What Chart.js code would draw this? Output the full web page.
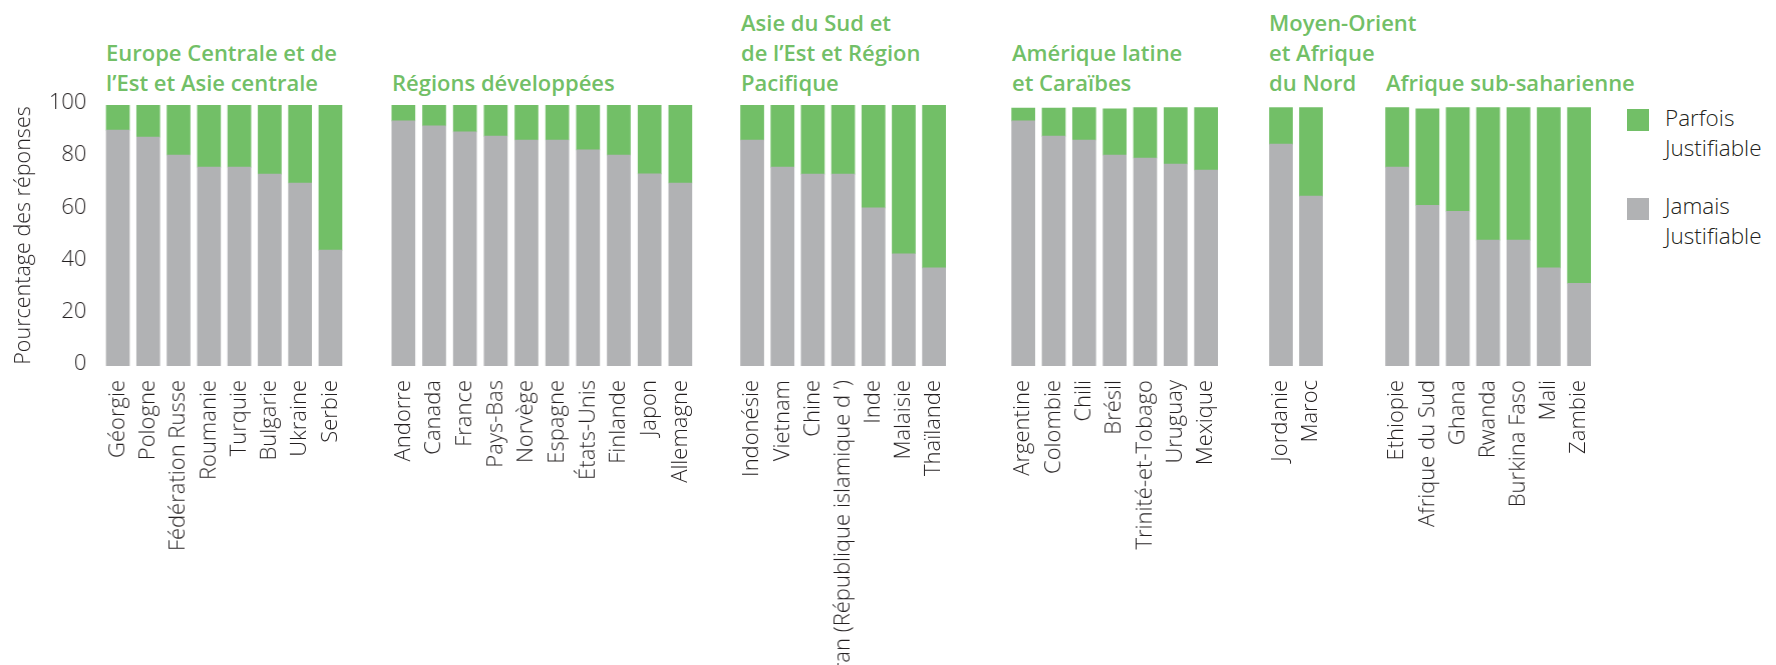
<!DOCTYPE html>
<html lang="fr">
<head>
<meta charset="utf-8">
<title>Pourcentage des réponses par région</title>
<script src="https://cdn.jsdelivr.net/npm/chart.js@4.4.1/dist/chart.umd.min.js"></script>
<style>
  html, body { margin: 0; padding: 0; background: #fff; }
  #stage { position: relative; width: 1776px; height: 665px; overflow: hidden;
           font-family: 'Open Sans', sans-serif; color: #231f20; }
  .panel { position: absolute; top: 0; height: 665px; }
  .region { position: absolute; bottom: 568px; color: #72bf67; font-weight: 600;
            font-size: 22px; line-height: 30px; white-space: pre; }
  .key { position: absolute; left: 1627px; width: 22px; height: 22px; }
  .key-label { position: absolute; left: 1665px; font-size: 22.5px; line-height: 30px;
               font-weight: 300; white-space: pre; }
</style>
</head>
<body>
<div id="stage"></div>
<script>
'use strict';

/* Region headings, and how many countries sit under each one */
const regions = [
    'Europe Centrale et de\nl’Est et Asie centrale',
    'Régions développées',
    'Asie du Sud et\nde l’Est et Région\nPacifique',
    'Amérique latine\net Caraïbes',
    'Moyen-Orient\net Afrique\ndu Nord',
    'Afrique sub-saharienne'
];
const regionSizes = [8, 10, 7, 7, 2, 7];

const countries = [
    'Géorgie', 'Pologne', 'Fédération Russe', 'Roumanie', 'Turquie', 'Bulgarie', 'Ukraine', 'Serbie',
    'Andorre', 'Canada', 'France', 'Pays-Bas', 'Norvège', 'Espagne', 'États-Unis', 'Finlande', 'Japon', 'Allemagne',
    'Indonésie', 'Vietnam', 'Chine', 'Iran (République islamique d ’)', 'Inde', 'Malaisie', 'Thaïlande',
    'Argentine', 'Colombie', 'Chili', 'Brésil', 'Trinité-et-Tobago', 'Uruguay', 'Mexique',
    'Jordanie', 'Maroc',
    'Ethiopie', 'Afrique du Sud', 'Ghana', 'Rwanda', 'Burkina Faso', 'Mali', 'Zambie'
];

// % "Jamais Justifiable"
const jamais = [
    90.4, 87.7, 80.8, 76.2, 76.2, 73.5, 70.1, 44.4,
    93.9, 92.0, 89.7, 88.1, 86.6, 86.6, 82.8, 80.8, 73.6, 70.1,
    86.6, 76.2, 73.5, 73.5, 60.6, 43.0, 37.6,
    93.9, 88.1, 86.6, 80.8, 79.7, 77.4, 75.1,
    85.0, 65.1,
    76.2, 61.6, 59.3, 48.2, 48.2, 37.6, 31.7
];

// % "Parfois Justifiable"
const parfois = [
    9.6, 12.3, 19.2, 23.8, 23.8, 26.5, 29.9, 55.6,
    6.1, 8.0, 10.3, 11.9, 13.4, 13.4, 17.2, 19.2, 26.4, 29.9,
    13.4, 23.8, 26.5, 26.5, 39.4, 57.0, 62.4,
    4.9, 10.7, 12.4, 17.7, 19.3, 21.6, 23.9,
    14.0, 33.9,
    22.8, 36.9, 39.7, 50.8, 50.8, 61.4, 67.3
];

const yTicks = [0, 20, 40, 60, 80, 100];

const GREEN = '#72bf67';
const GREY = '#b1b2b4';
const INK = '#231f20';

/* panel layout: left edge of first and last bar in each region */
const firstBarX = [106, 392, 741, 1012, 1269, 1386];
const lastBarX = [318, 668, 922, 1194, 1299, 1567];
const BAR_W = 23;
const PLOT_TOP = 105;
const PLOT_BOTTOM = 366;
const H = 665;

const stage = document.getElementById('stage');
const lightFont = size => ({ family: "'Open Sans', sans-serif", size: size, weight: '300' });

let start = 0;
regions.forEach(function(title, i) {
    const n = regionSizes[i];
    const names = countries.slice(start, start + n);
    const low = jamais.slice(start, start + n);
    const high = parfois.slice(start, start + n);
    start += n;

    const pitch = n > 1 ? (lastBarX[i] - firstBarX[i]) / (n - 1) : 30;
    const plotLeft = firstBarX[i] - (pitch - BAR_W) / 2;
    const plotW = n * pitch;
    const withAxis = i === 0;
    const boxLeft = withAxis ? 0 : plotLeft;
    const boxW = withAxis ? plotLeft + plotW : plotW;

    // heading above the panel
    const head = document.createElement('div');
    head.className = 'region';
    head.style.left = firstBarX[i] + 'px';
    head.textContent = title;
    stage.appendChild(head);

    const box = document.createElement('div');
    box.className = 'panel';
    box.style.left = boxLeft + 'px';
    box.style.width = boxW + 'px';
    const canvas = document.createElement('canvas');
    box.appendChild(canvas);
    stage.appendChild(box);

    const yAxis = {
        display: withAxis,
        stacked: true,
        min: 0,
        max: 100,
        grid: { display: false, drawTicks: false },
        border: { display: false },
        afterBuildTicks: function(scale) {
            scale.ticks = yTicks.map(v => ({ value: v }));
        },
        ticks: { padding: 16, labelOffset: -2, color: INK, font: lightFont(22) },
        title: {
            display: withAxis,
            text: 'Pourcentage des réponses',
            color: INK,
            padding: { top: 11, bottom: 0 },
            font: lightFont(21.5)
        }
    };
    // only the first panel carries the value axis; its width sets where the bars begin
    if (withAxis) {
        yAxis.afterFit = function(scale) { scale.width = plotLeft; };
    }

    new Chart(canvas, {
        type: 'bar',
        data: {
            labels: names,
            datasets: [
                { label: 'Jamais Justifiable', data: low, backgroundColor: GREY, barThickness: BAR_W },
                { label: 'Parfois Justifiable', data: high, backgroundColor: GREEN, barThickness: BAR_W }
            ]
        },
        options: {
            responsive: true,
            maintainAspectRatio: false,
            animation: false,
            devicePixelRatio: 1,
            layout: { padding: { top: PLOT_TOP, left: 0, right: 0, bottom: 0 } },
            plugins: { legend: { display: false }, tooltip: { enabled: false } },
            scales: {
                x: {
                    stacked: true,
                    grid: { display: false, drawTicks: false },
                    border: { display: false },
                    ticks: {
                        autoSkip: false,
                        minRotation: 90,
                        maxRotation: 90,
                        padding: 14,
                        color: INK,
                        font: lightFont(22)
                    },
                    afterFit: function(scale) {
                        // fixed band for the country names, and no side inset for the end labels
                        scale.height = H - PLOT_BOTTOM;
                        scale.paddingLeft = 0;
                        scale.paddingRight = 0;
                    }
                },
                y: yAxis
            }
        }
    });
});

/* Legend */
const keys = [
    { color: GREEN, text: 'Parfois\nJustifiable', boxTop: 109, textTop: 103 },
    { color: GREY, text: 'Jamais\nJustifiable', boxTop: 198, textTop: 191 }
];
keys.forEach(function(k) {
    const sw = document.createElement('div');
    sw.className = 'key';
    sw.style.top = k.boxTop + 'px';
    sw.style.background = k.color;
    stage.appendChild(sw);
    const txt = document.createElement('div');
    txt.className = 'key-label';
    txt.style.top = k.textTop + 'px';
    txt.textContent = k.text;
    stage.appendChild(txt);
});
</script>
</body>
</html>
